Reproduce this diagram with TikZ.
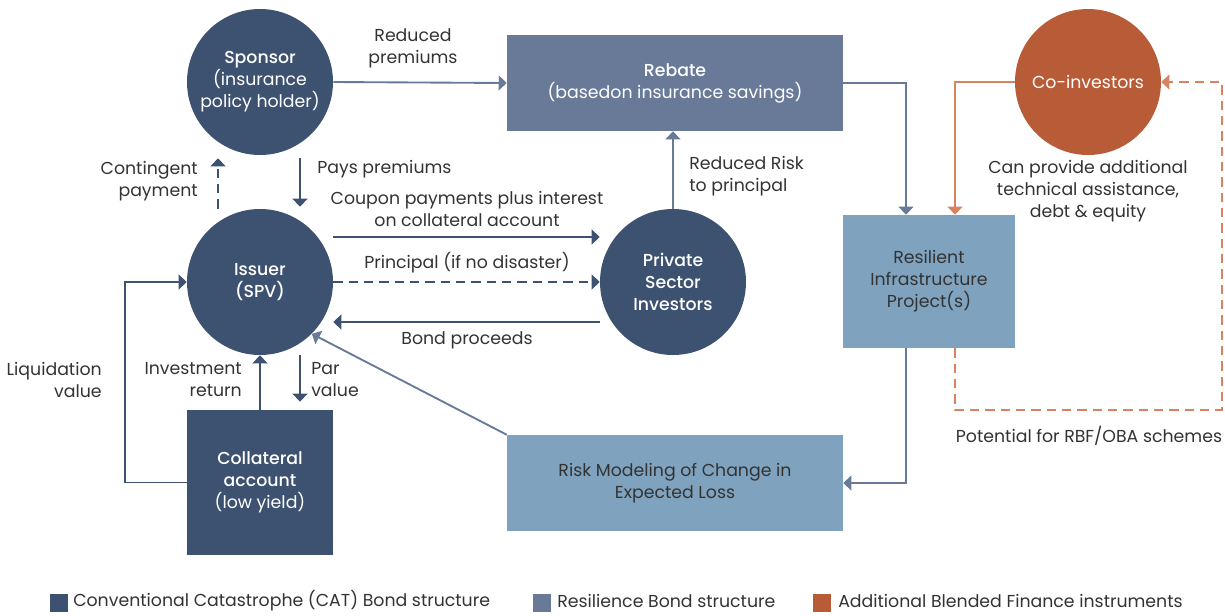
\documentclass[tikz,border=0pt]{standalone}
\usepackage{fontspec}
\setmainfont{Poppins}[BoldFont={* Medium}]
\usetikzlibrary{arrows.meta,calc}
\definecolor{catblue}{HTML}{3D5170}
\definecolor{resblue}{HTML}{687A98}
\definecolor{lightblue}{HTML}{7FA3BE}
\definecolor{blendorange}{HTML}{B85C38}
\definecolor{arroworange}{HTML}{D9825F}
\definecolor{txtgray}{HTML}{333333}
\begin{document}
\begin{tikzpicture}[x=0.75pt,y=-0.75pt,
    font=\fontsize{13}{16.5}\selectfont, text=txtgray,
    catcircle/.style={circle, fill=catblue, text=white, minimum size=109.5pt, inner sep=0pt, align=center},
    boxnode/.style={rectangle, inner sep=0pt, align=center},
    lbl/.style={inner sep=0pt, align=center},
    catarrow/.style={draw=catblue, line width=1.4pt, -{Triangle[length=6pt,width=11pt]}},
    resarrow/.style={draw=resblue, line width=1.4pt, -{Triangle[length=6pt,width=11pt]}},
    orangearrow/.style={draw=arroworange, line width=1.4pt, -{Triangle[length=6pt,width=11pt]}},
    dashline/.style={dash pattern=on 7pt off 4.5pt},
    legendbox/.style={rectangle, minimum size=13.5pt, inner sep=0pt}]
\useasboundingbox (0,0) rectangle (1225,615);
% circles
\node[catcircle] (sponsor) at (260,82) {\textbf{Sponsor}\\(insurance\\policy holder)};
\node[catcircle] (issuer) at (260,282) {\textbf{Issuer}\\\textbf{(SPV)}};
\node[catcircle] (private) at (673,282) {\textbf{Private}\\\textbf{Sector}\\\textbf{Investors}};
\node[catcircle, fill=blendorange] (coinv) at (1088,82) {Co-investors};
% boxes
\node[boxnode, fill=resblue, text=white, minimum width=252pt, minimum height=72pt] (rebate) at (675,83) {\textbf{Rebate}\\(basedon insurance savings)};
\node[boxnode, fill=lightblue, minimum width=129pt, minimum height=99.75pt] (resilient) at (929,281.5) {Resilient\\Infrastructure\\Project(s)};
\node[boxnode, fill=lightblue, minimum width=252pt, minimum height=72pt] (riskmod) at (675,483) {Risk Modeling of Change in\\Expected Loss};
\node[boxnode, fill=catblue, text=white, minimum width=109.5pt, minimum height=108.75pt] (collateral) at (260,482.5) {\textbf{Collateral}\\\textbf{account}\\(low yield)};
% connectors
\draw[resarrow] (sponsor.east) -- (rebate.west);
\draw[catarrow] ($(sponsor.south)+(40,3)$) -- ($(issuer.north)+(40,-2)$);
\draw[catarrow, dashline] ($(issuer.north)+(-42,0)$) -- ($(sponsor.south)+(-42,3)$);
\draw[catarrow] ($(issuer.east)+(0,-45)$) -- ($(private.west)+(0,-45)$);
\draw[catarrow, dashline] (issuer.east) -- (private.west);
\draw[catarrow] ($(private.west)+(0,40)$) -- ($(issuer.east)+(0,40)$);
\draw[resarrow] (private.north) -- (private.north |- rebate.south);
\draw[resarrow] (rebate.east) -| ($(resilient.north)+(-23,0)$);
\draw[orangearrow] (coinv.west) -| ($(resilient.north)+(26,0)$);
\draw[resarrow] ($(resilient.south)+(-23,0)$) |- (riskmod.east);
\coordinate (rbfcorner) at (1222,410);
\draw[orangearrow, dashline] ($(resilient.south)+(26,0)$) |- (rbfcorner) |- (coinv.east);
\draw[resarrow] (riskmod.north west) -- (issuer.-45);
\draw[catarrow] (collateral.north) -- (issuer.south);
\draw[catarrow] ($(issuer.south)+(40,0)$) -- ($(collateral.north)+(40,-8)$);
\draw[catarrow] (collateral.west) -- ++(-62,0) |- (issuer.west);
% labels
\node[lbl] (lblreduced) at (413,48) {Reduced\\premiums};
\node[lbl, anchor=west] (lblpays) at (317,169) {Pays premiums};
\node[lbl, anchor=east, align=right] (lblcontingent) at (198,181) {Contingent\\payment};
\node[lbl] (lblcoupon) at (467,209) {Coupon payments plus interest\\on collateral account};
\node[lbl] (lblprincipal) at (467,263) {Principal (if no disaster)};
\node[lbl] (lblbond) at (467,340) {Bond proceeds};
\node[lbl, anchor=west, align=left] (lblrisk) at (689,176) {Reduced Risk\\to principal};
\node[lbl] (lblcan) at (1088,191) {Can provide additional\\technical assistance,\\debt \& equity};
\node[lbl] (lblrbf) at (1089,436) {Potential for RBF/OBA schemes};
\node[lbl, anchor=east, align=right] (lblinvest) at (242,380) {Investment\\return};
\node[lbl, anchor=west, align=left] (lblpar) at (311,380) {Par\\value};
\node[lbl, anchor=east, align=right] (lblliquid) at (102,380) {Liquidation\\value};
% legend
\node[legendbox, fill=catblue] (legcat) at (59,603) {};
\node[lbl, anchor=west] (legcattext) at (73,601) {Conventional Catastrophe (CAT) Bond structure};
\node[legendbox, fill=resblue] (legres) at (542,603) {};
\node[lbl, anchor=west] (legrestext) at (557,601) {Resilience Bond structure};
\node[legendbox, fill=blendorange] (legblend) at (822,603) {};
\node[lbl, anchor=west] (legblendtext) at (838,601) {Additional Blended Finance instruments};
\end{tikzpicture}
\end{document}
